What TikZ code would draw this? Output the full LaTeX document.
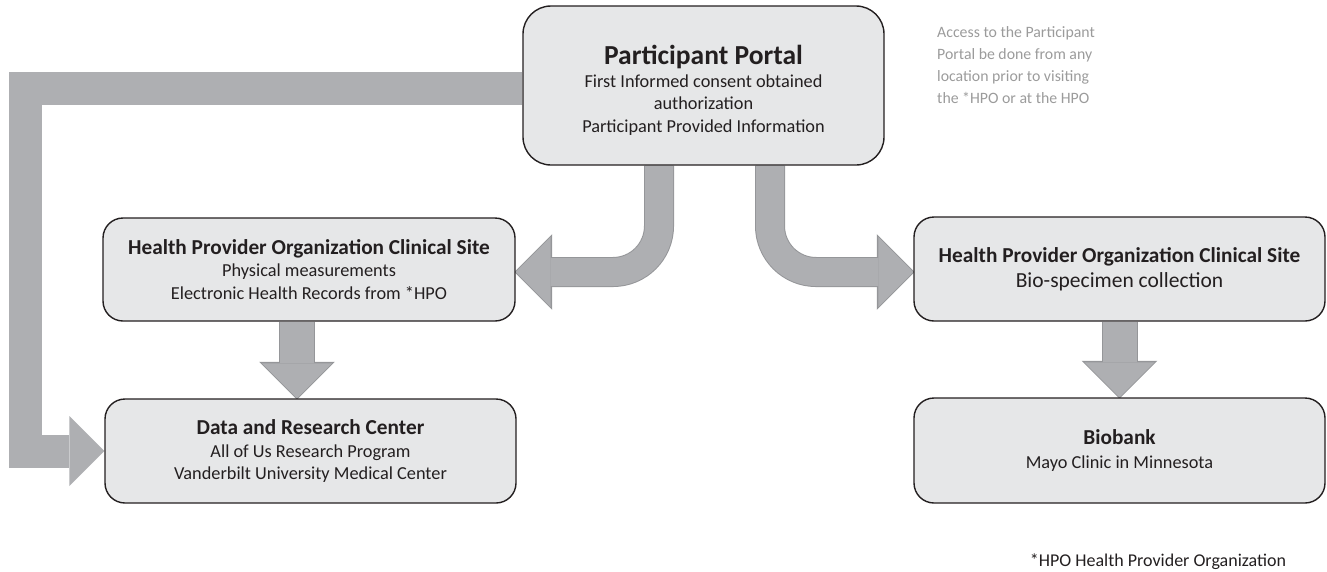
\documentclass[tikz,border=0pt]{standalone}
\usepackage{fontspec}
\setmainfont{Carlito}
\usetikzlibrary{arrows.meta,backgrounds}
\definecolor{boxfill}{HTML}{E6E7E8}
\definecolor{boxline}{HTML}{231F20}
\definecolor{flowfill}{HTML}{AEAFB2}
\definecolor{flowline}{HTML}{959699}
\definecolor{notegray}{HTML}{9B9B9B}
\tikzset{
  site/.style={draw=boxline, fill=boxfill, line width=1.4pt, rounded corners=20pt,
    align=center, inner sep=0pt, text=boxline, font=\fontsize{18.3}{22.5}\selectfont},
  flow/.style={draw=flowfill, line width=#1,
    -{Triangle[length=35pt,width=70pt,line width=0pt]}},
  flow/.default=32pt,
  edged/.style={preaction={draw=flowline, line width=#1+2pt, shorten >=-1.4pt,
      -{Triangle[length=37.8pt,width=75.6pt,line width=0pt]}}}
}
\newcommand{\headtext}[1]{{\fontsize{21.3}{25}\selectfont\bfseries #1}}
\begin{document}
\begin{tikzpicture}[x=1pt,y=-1pt]
\useasboundingbox (0,0) rectangle (1327,571);
% boxes
\node[site, minimum width=361pt, minimum height=159pt, rounded corners=28pt] (portal) at (703.5,85.5) {};
\node[align=center, inner sep=0pt, text=boxline, font=\fontsize{18.3}{22.5}\selectfont]
  (portaltext) at ([yshift=-5pt]portal.center)
  {{\fontsize{27.5}{30}\selectfont\bfseries Participant Portal}\\
   First Informed consent obtained\\authorization\\Participant Provided Information};
\node[site, minimum width=412pt, minimum height=103pt] (hpoL) at (309,269.5)
  {\headtext{Health Provider Organization Clinical Site}\\
   Physical measurements\\Electronic Health Records from *HPO};
\node[site, minimum width=411pt, minimum height=104pt] (drc) at (310.5,451)
  {\headtext{Data and Research Center}\\
   All of Us Research Program\\Vanderbilt University Medical Center};
\node[site, minimum width=411pt, minimum height=104pt] (hpoR) at (1119.5,269)
  {\headtext{Health Provider Organization Clinical Site}\\[2pt]
   {\fontsize{21.5}{25}\selectfont Bio-specimen collection}};
\node[site, minimum width=411pt, minimum height=105pt] (bank) at (1119.5,450.5)
  {\headtext{Biobank}\\[1pt]Mayo Clinic in Minnesota};
% notes
\node[anchor=north west, align=left, text=notegray, inner sep=0pt,
  font=\fontsize{15.8}{22}\selectfont] (access) at (937,26)
  {Access to the Participant\\Portal be done from any\\location prior to visiting\\the *HPO or at the HPO};
\node[inner sep=0pt, text=boxline, font=\fontsize{18}{20}\selectfont] (hpo) at (1158,562)
  {*HPO Health Provider Organization};
% flows
\begin{scope}[on background layer]
\draw[flow=33pt] ([yshift=-3pt]portal.west) -| ([xshift=-79pt]drc.west) -- (drc.west);
\draw[flow=28pt, edged=28pt, rounded corners=46pt] ([xshift=-44.5pt]portal.south) |- ([yshift=-2.5pt]hpoL.east);
\draw[flow=28pt, edged=28pt, rounded corners=46pt] ([xshift=66.5pt]portal.south) |- ([yshift=-3pt]hpoR.west);
\draw[flow=34pt, edged=34pt] ([xshift=-12pt]hpoL.south) -- ([xshift=-12pt]hpoL.south |- drc.north);
\draw[flow=34pt, edged=34pt] (hpoR.south) -- (bank.north);
\end{scope}
\end{tikzpicture}
\end{document}
